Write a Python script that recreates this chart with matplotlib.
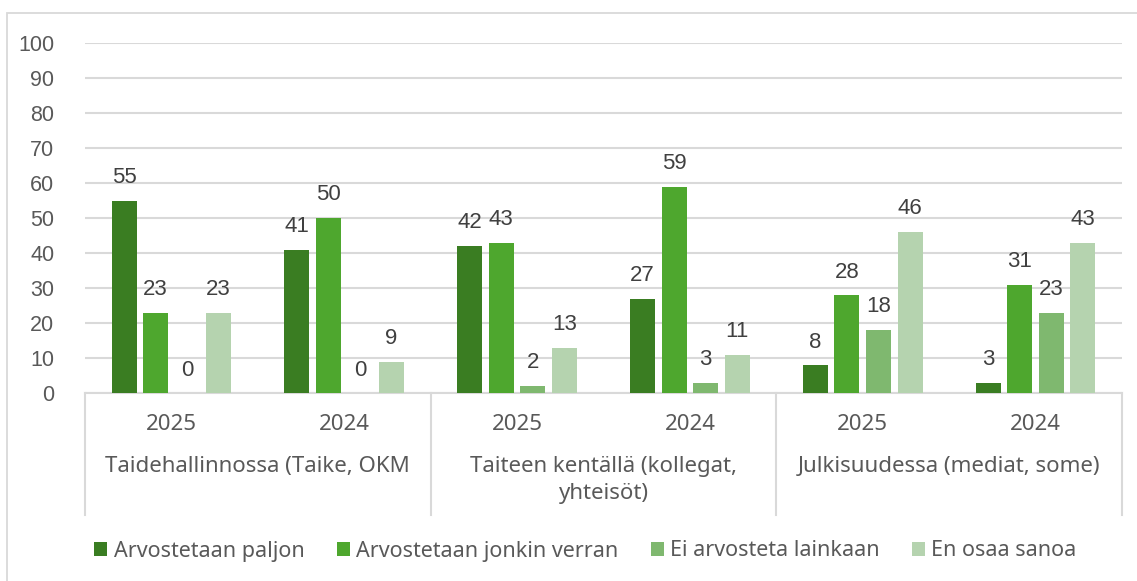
import numpy as np
import matplotlib
matplotlib.use("Agg")
import matplotlib.pyplot as plt
from matplotlib.patches import Rectangle
from matplotlib.lines import Line2D

groups = ["Taidehallinnossa (Taike, OKM", "Taiteen kentällä (kollegat,\nyhteisöt)",
          "Julkisuudessa (mediat, some)"]
years = ["2025", "2024", "2025", "2024", "2025", "2024"]
series = ["Arvostetaan paljon", "Arvostetaan jonkin verran",
          "Ei arvosteta lainkaan", "En osaa sanoa"]
paljon = [55, 41, 42, 27, 8, 3]
jonkin = [23, 50, 43, 59, 28, 31]
ei = [0, 0, 2, 3, 18, 23]
en_osaa = [23, 9, 13, 11, 46, 43]
colors = ["#3A7D22", "#4EA72E", "#7FB86F", "#B5D3AF"]

W, H = 1137, 581
fig = plt.figure(figsize=(W / 100, H / 100), dpi=100)
ax = fig.add_axes([85 / W, 1 - 393 / H, 1037 / W, 350 / H])

# outer chart border
fig.patches.append(Rectangle((7 / W, -0.1), 1.2, 1 - 13 / H + 0.1, transform=fig.transFigure,
                             fill=False, edgecolor="#D9D9D9", linewidth=1.3))

x = np.arange(len(years))
pitch = 31.5 / 172.8
width = 25 / 172.8
vals = [paljon, jonkin, ei, en_osaa]
num_font = dict(family="Liberation Sans", size=16)
for j, (name, v) in enumerate(zip(series, vals)):
    pos = x + (j - 1.5) * pitch
    bars = ax.bar(pos, v, width, color=colors[j], label=name, zorder=3)
    for b, val in zip(bars, v):
        ax.annotate(str(val), (b.get_x() + b.get_width() / 2, val), xytext=(0, 9),
                    textcoords="offset points", ha="center", va="bottom",
                    color="#404040", **num_font)

ax.set_xlim(-0.5, 5.5)
ax.set_ylim(0, 100)
ax.set_yticks(range(0, 101, 10))
ax.yaxis.grid(True, color="#D9D9D9", linewidth=1.5, zorder=0)
ax.tick_params(axis="y", length=0, pad=22, labelcolor="#595959", labelsize=15.5)
for lab in ax.get_yticklabels():
    lab.set_family("Liberation Sans")
ax.set_xticks([])
for s in ["top", "right", "left"]:
    ax.spines[s].set_visible(False)
ax.spines["bottom"].set_color("#D9D9D9")
ax.spines["bottom"].set_linewidth(1.5)

# two-level category axis
trans = ax.get_xaxis_transform()
px = 1 / 350  # one pixel in axes-y units
for i, yr in enumerate(years):
    ax.text(i, -31 * px, yr, transform=trans, ha="center", va="center",
            color="#595959", fontsize=16, family="Noto Sans")
for g, name in enumerate(groups):
    ax.text(2 * g + 0.5, -63 * px, name, transform=trans, ha="center", va="top",
            color="#595959", fontsize=16, family="Noto Sans", linespacing=1.35)
for xb in [-0.5, 1.5, 3.5, 5.5]:
    ax.add_line(Line2D([xb, xb], [0, -122 * px], transform=trans, color="#D9D9D9",
                       linewidth=1.5, clip_on=False))

leg = fig.legend(loc="center", bbox_to_anchor=(0.515, 1 - 551 / H), ncol=4, frameon=False,
                 handlelength=0.6, handleheight=0.6, handletextpad=0.3, columnspacing=1.5,
                 prop=dict(family="Noto Sans", size=15.5))
for t in leg.get_texts():
    t.set_color("#595959")

fig.savefig("out.png", dpi=100)
